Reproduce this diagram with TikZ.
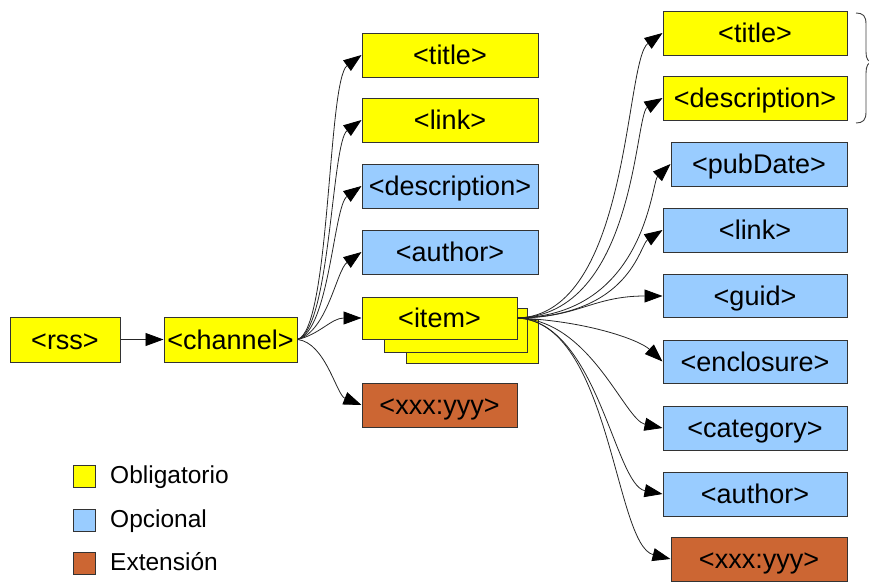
\documentclass[tikz,border=0pt]{standalone}
\usepackage{fontspec}
\setmainfont{Liberation Sans}
\usetikzlibrary{arrows.meta}
\definecolor{req}{HTML}{FFFF00}
\definecolor{opt}{HTML}{99CCFF}
\definecolor{ext}{HTML}{CC6633}
\definecolor{edge}{HTML}{333333}
\begin{document}
\begin{tikzpicture}[x=1pt,y=1pt,
  box/.style={draw=edge, line width=1pt, inner sep=0pt,
    font=\fontsize{27}{30}\selectfont, text height=19.3pt, text depth=0pt},
  conn/.style={draw=black!85, line width=0.8pt,
    -{Triangle[length=18pt,width=13pt,color=black]}},
  legbox/.style={draw=edge, line width=1pt, minimum size=22pt, inner sep=0pt},
  legtext/.style={anchor=west, inner sep=0pt,
    font=\fontsize{24.5}{28}\selectfont, text height=17.5pt, text depth=0pt},
  bracket/.style={draw=black!75, line width=0.9pt}
]
\useasboundingbox (0,0) rectangle (869,-581);

% root and channel
\node[box, fill=req, minimum width=110pt, minimum height=45pt] (rss) at (65,-339.5) {<rss>};
\node[box, fill=req, minimum width=133pt, minimum height=45pt] (channel) at (230.5,-339.5) {<channel>};

% children of channel
\node[box, fill=req, minimum width=176pt, minimum height=44pt] (t1) at (450,-55) {<title>};
\node[box, fill=req, minimum width=176pt, minimum height=44pt] (l1) at (450,-120) {<link>};
\node[box, fill=opt, minimum width=176pt, minimum height=44pt] (d1) at (450,-186) {<description>};
\node[box, fill=opt, minimum width=176pt, minimum height=44pt] (a1) at (450,-252) {<author>};
\node[box, fill=req, minimum width=132pt, minimum height=44pt] (item3) at (472,-341) {};
\node[box, fill=req, minimum width=143pt, minimum height=44pt] (item2) at (455.5,-330) {};
\node[box, fill=req, minimum width=155pt, minimum height=42pt] (item) at (439.5,-318) {<item>};
\node[box, fill=ext, minimum width=155pt, minimum height=44pt] (x1) at (439.5,-405) {<xxx:yyy>};

% children of item
\node[box, fill=req, minimum width=184pt, minimum height=44pt] (t2) at (755,-33) {<title>};
\node[box, fill=req, minimum width=184pt, minimum height=44pt] (d2) at (755,-98) {<description>};
\node[box, fill=opt, minimum width=176pt, minimum height=44pt] (p2) at (759,-164) {<pubDate>};
\node[box, fill=opt, minimum width=184pt, minimum height=44pt] (l2) at (755,-230) {<link>};
\node[box, fill=opt, minimum width=184pt, minimum height=43pt] (g2) at (755,-296) {<guid>};
\node[box, fill=opt, minimum width=184pt, minimum height=43pt] (e2) at (755,-361.5) {<enclosure>};
\node[box, fill=opt, minimum width=184pt, minimum height=44pt] (c2) at (755,-428) {<category>};
\node[box, fill=opt, minimum width=184pt, minimum height=44pt] (a2) at (755,-494) {<author>};
\node[box, fill=ext, minimum width=176pt, minimum height=44pt] (x2) at (759,-559) {<xxx:yyy>};

% connectors
\draw[conn] (rss) -- (channel);

\draw[conn] (channel.east) .. controls +(33,10) and +(-34,-25) .. (t1.west);
\draw[conn] (channel.east) .. controls +(33,10) and +(-30,-22) .. (l1.west);
\draw[conn] (channel.east) .. controls +(32,9) and +(-28,-20) .. (d1.west);
\draw[conn] (channel.east) .. controls +(30,8) and +(-25,-18) .. (a1.west);
\draw[conn] (channel.east) .. controls +(22,5) and +(-30,0) .. (item.west);
\draw[conn] (channel.east) .. controls +(28,-3) and +(-25,10) .. (x1.west);

\draw[conn] (item.east) .. controls +(113,3) and +(-38,-27) .. (t2.west);
\draw[conn] (item.east) .. controls +(118,3) and +(-28,-17) .. (d2.west);
\draw[conn] (item.east) .. controls +(128,3) and +(-19,-18) .. (p2.west);
\draw[conn] (item.east) .. controls +(113,2) and +(-23,-15) .. (l2.west);
\draw[conn] (item.east) .. controls +(60,0) and +(-70,0) .. (g2.west);
\draw[conn] (item.east) .. controls +(70,-3) and +(-23,21.5) .. (e2.west);
\draw[conn] (item.east) .. controls +(73,-2) and +(-38,8) .. (c2.west);
\draw[conn] (item.east) .. controls +(80,-4) and +(-48,9) .. (a2.west);
\draw[conn] (item.east) .. controls +(93,-4) and +(-56,14) .. (x2.west);

% curly bracket beside the first two item children
\draw[bracket] (856,-13) .. controls (863,-13) and (866,-16) .. (866,-24)
  -- (866,-52) .. controls (866,-59) and (868,-62) .. (873,-62)
  (873,-62) .. controls (868,-62) and (866,-66) .. (866,-73)
  -- (866,-112) .. controls (866,-120) and (863,-123) .. (856,-123);

% legend
\node[legbox, fill=req] (lreq) at (84.5,-476) {};
\node[legbox, fill=opt] (lopt) at (84.5,-520) {};
\node[legbox, fill=ext] (lext) at (84.5,-563.5) {};
\node[legtext] (treq) at ([xshift=14pt,yshift=1.5pt]lreq.east) {Obligatorio};
\node[legtext] (topt) at ([xshift=14pt,yshift=1.5pt]lopt.east) {Opcional};
\node[legtext] (text) at ([xshift=14pt,yshift=1.5pt]lext.east) {Extensión};
\end{tikzpicture}
\end{document}
